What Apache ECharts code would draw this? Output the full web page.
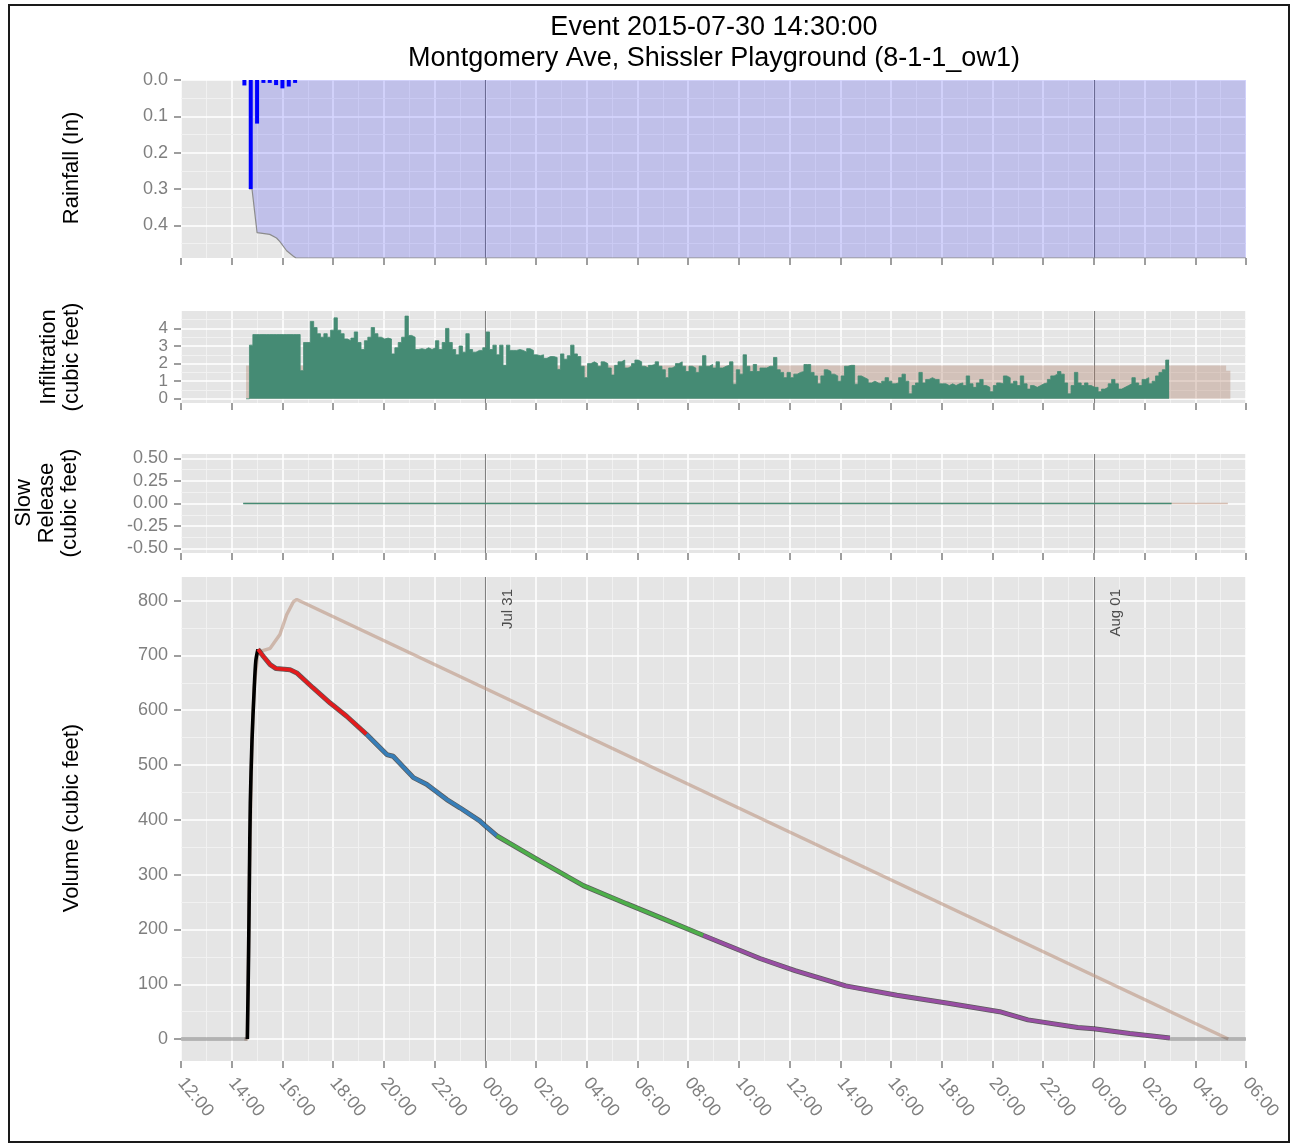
<!DOCTYPE html>
<html><head><meta charset="utf-8">
<script src="https://cdn.jsdelivr.net/npm/echarts@6/dist/echarts.min.js"></script>
<style>
html,body{margin:0;padding:0;background:#fff}
#wrap{position:relative;width:1293px;height:1145px}
#c{width:1293px;height:1145px}
#frame{position:absolute;left:8px;top:4px;width:1278px;height:1135px;border:2px solid #1a1a1a;pointer-events:none}
</style>
</head><body>
<div id="wrap"><div id="c"></div><div id="frame"></div></div>
<script>
// ---------------- DATA ----------------
const titleLines = ['Event 2015-07-30 14:30:00', 'Montgomery Ave, Shissler Playground (8-1-1_ow1)'];
const xStart = '2015-07-30 12:00';
const xEnd = '2015-08-01 06:00';
const xTickHours = 2;
const dayMarks = ['2015-07-31 00:00', '2015-08-01 00:00'];
const dayMarkLabels = ['Jul 31', 'Aug 01'];

// Rainfall panel
const rainTimes = ['2015-07-30 14:30','2015-07-30 14:45','2015-07-30 15:00','2015-07-30 15:15','2015-07-30 15:30','2015-07-30 15:45','2015-07-30 16:00','2015-07-30 16:15','2015-07-30 16:30'];
const rainValues = [0.015, 0.30, 0.12, 0.008, 0.008, 0.014, 0.023, 0.018, 0.008];
const cumRainTimes = ['2015-07-30 14:41','2015-07-30 14:48','2015-07-30 15:00','2015-07-30 15:30','2015-07-30 15:46','2015-07-30 15:54','2015-07-30 16:10','2015-07-30 16:26','2015-07-30 16:32','2015-08-01 06:00'];
const cumRainValues = [0.30, 0.30, 0.42, 0.425, 0.435, 0.445, 0.47, 0.485, 0.49, 0.49];
const rainTicks = [0, 0.1, 0.2, 0.3, 0.4];
const rainMinor = [0.05, 0.15, 0.25, 0.35, 0.45];

// Infiltration panel (observed, 8-minute bins starting at infilStart)
const infilStart = '2015-07-30 14:34';
const infilStepMin = 8;
const infilValues = [
  0, 3.05,
  3.65,3.65,3.65,3.65,3.65,3.65,3.65,3.65,3.65,3.65,3.65,3.65,3.65,3.65,
  1.6, 3.2, 3.2,
  4.4,4.05,3.7,3.5,3.7,3.5,3.9,4.6,3.9,3.7,3.4,3.3,3.45,3.8,3.2,2.8,3.3,3.5,4.05,3.7,
  3.5,3.4,3.45,3.4,2.55,2.9,3.2,3.5,4.7,3.6,3.5,2.8,2.85,2.8,2.9,2.8,2.9,3.3,2.8,3.2,
  4.0,3.2,2.8,2.5,3.0,2.65,3.7,2.8,2.65,2.75,2.75,2.9,3.8,2.8,3.05,2.5,3.05,1.9,3.05,2.75,
  2.75,2.8,2.75,2.65,2.85,2.75,2.5,2.45,2.5,2.3,
  2.4,2.4,2.35,1.67,2.55,2.25,2.45,3.05,2.55,2.4,
  1.85,1.2,2.0,2.1,2.0,1.85,2.1,2.0,1.75,1.35,
  1.9,2.1,2.2,1.75,1.85,2.0,2.2,2.1,1.85,1.75,
  1.9,1.95,2.1,1.85,1.65,1.2,1.75,1.85,2.0,2.1,
  1.85,1.55,1.85,1.75,1.5,1.85,2.45,1.85,1.95,1.75,
  2.1,1.75,1.85,1.9,2.1,0.83,1.65,1.4,2.5,1.85,
  1.55,1.95,1.55,1.75,1.75,1.85,1.85,2.35,1.65,1.5,
  1.2,1.5,1.2,1.4,1.5,1.55,1.95,1.95,1.5,1.3,
  0.85,1.3,1.65,1.55,1.4,1.3,1.0,1.3,1.85,
  1.9,1.9,0.83,1.3,1.2,1.1,0.9,1.0,0.9,0.85,
  1.0,1.2,1.0,0.85,0.9,1.2,1.4,1.0,0.28,0.75,
  0.9,1.5,0.9,1.1,1.2,1.1,1.1,0.85,0.85,0.75,
  0.85,0.75,0.85,0.9,0.75,1.3,0.85,0.65,0.9,1.1,
  0.75,0.65,0.4,0.75,0.9,0.85,1.3,1.2,0.85,1.0,
  0.75,1.3,0.85,0.55,0.75,0.65,0.75,0.85,0.9,1.1,
  1.3,1.4,1.55,1.4,0.9,0.28,0.75,1.5,0.9,0.75,
  0.9,0.75,0.65,0.65,0.4,0.55,0.65,0.85,1.1,0.85,
  0.55,0.65,0.75,0.85,1.2,0.9,0.75,1.1,1.2,0.85,
  1.0,1.3,1.5,1.65,2.2
];
const modelInfilTimes = ['2015-07-30 14:34','2015-08-01 05:13','2015-08-01 05:23'];
const modelInfilValues = [1.89, 1.6, 1.6];
const infilTicks = [0, 1, 2, 3, 4];
const infilMinor = [0.5, 1.5, 2.5, 3.5, 4.5];

// Slow release panel
const slowObsTimes = ['2015-07-30 14:27','2015-08-01 03:04'];
const slowObsValues = [0, 0];
const slowModelTimes = ['2015-07-30 14:30','2015-08-01 05:17'];
const slowModelValues = [0, 0];
const slowTicks = [-0.5, -0.25, 0, 0.25, 0.5];
const slowMinor = [-0.375, -0.125, 0.125, 0.375];

// Volume panel (observed, by segment)
const volGreyStart = [['2015-07-30 12:00',0],['2015-07-30 14:37',0]];
const volBlack = [['2015-07-30 14:37',0],['2015-07-30 14:40',160],['2015-07-30 14:42',305],['2015-07-30 14:44',430],['2015-07-30 14:48',545],['2015-07-30 14:53',635],['2015-07-30 14:57',690],['2015-07-30 15:02',711]];
const volRed = [['2015-07-30 15:02',711],['2015-07-30 15:15',698],['2015-07-30 15:31',683],['2015-07-30 15:45',676],['2015-07-30 16:18',674],['2015-07-30 16:34',668],['2015-07-30 17:12',641],['2015-07-30 17:53',613],['2015-07-30 18:32',589],['2015-07-30 19:19',556]];
const volBlue = [['2015-07-30 19:19',556],['2015-07-30 20:07',519],['2015-07-30 20:22',516],['2015-07-30 21:10',477],['2015-07-30 21:41',465],['2015-07-30 22:29',437],['2015-07-30 23:00',422],['2015-07-30 23:47',398],['2015-07-31 00:00',389],['2015-07-31 00:27',371]];
const volGreen = [['2015-07-31 00:27',371],['2015-07-31 01:18',348],['2015-07-31 02:09',325],['2015-07-31 03:52',280],['2015-07-31 05:34',247],['2015-07-31 06:53',222],['2015-07-31 08:36',189]];
const volPurple = [['2015-07-31 08:36',189],['2015-07-31 10:50',147],['2015-07-31 12:13',125],['2015-07-31 14:13',97],['2015-07-31 16:14',80],['2015-07-31 18:19',65],['2015-07-31 20:17',50],['2015-07-31 21:24',35],['2015-07-31 23:22',21],['2015-08-01 00:00',19],['2015-08-01 01:25',10],['2015-08-01 03:00',2]];
const volGreyEnd = [['2015-08-01 03:00',0],['2015-08-01 06:00',0]];
const volModel = [['2015-07-30 14:30',0],['2015-07-30 14:37',0],['2015-07-30 14:42',300],['2015-07-30 14:48',545],['2015-07-30 14:53',640],['2015-07-30 15:02',706],['2015-07-30 15:31',713],['2015-07-30 15:54',738],['2015-07-30 16:10',774],['2015-07-30 16:26',798],['2015-07-30 16:34',802],['2015-08-01 05:18',0]];
const volTicks = [0,100,200,300,400,500,600,700,800];
const volMinor = [50,150,250,350,450,550,650,750];

// ---------------- HELPERS ----------------
function P(s){ const [d,t]=s.split(' '); const [Y,M,D]=d.split('-').map(Number); const [h,m]=t.split(':').map(Number); return Date.UTC(Y,M-1,D,h,m); }
const HMS = 3600000;
function fmtHM(v){ const d=new Date(v); return String(d.getUTCHours()).padStart(2,'0')+':'+String(d.getUTCMinutes()).padStart(2,'0'); }
const pairs = (ts, vs) => ts.map((t,i)=>[P(t), vs[i]]);
const conv = arr => arr.map(([t,v])=>[P(t), v]);
const FONT = '"Liberation Sans", Arial, Helvetica, sans-serif';
const TICKCOL = '#7f7f7f';

const infilData = infilValues.map((v,i)=>[P(infilStart)+i*infilStepMin*60000, v]);
infilData.push([P(infilStart)+infilValues.length*infilStepMin*60000, infilValues[infilValues.length-1]]);

// ---------------- LAYOUT ----------------
const grids = [
  {top:80, height:178},
  {top:311, height:92},
  {top:454, height:99},
  {top:577, height:484}
];

const xAxes = grids.map((g,i)=>({
  type:'value', gridIndex:i, min:P(xStart), max:P(xEnd), interval:xTickHours*HMS,
  axisLine:{show:false, onZero:false},
  axisTick:{show:true, length:7, lineStyle:{color:TICKCOL, width:1.5}},
  axisLabel: i===3 ? {show:true, rotate:-50, margin:19, fontSize:18, color:TICKCOL, fontFamily:FONT, formatter:fmtHM, showMinLabel:true, showMaxLabel:true, hideOverlap:false} : {show:false},
  splitLine:{show:true, lineStyle:{color:'#ffffff', width:1.5}},
  minorTick:{show:false, splitNumber:2},
  minorSplitLine:{show:true, lineStyle:{color:'#F2F2F2', width:0.9}}
}));

function yAxis(i, min, max, ticks, dec, inverse, fs){
  return {
    type:'value', gridIndex:i, min:min, max:max, inverse:!!inverse,
    axisLine:{show:false, onZero:false},
    axisTick:{show:true, length:7, customValues:ticks, lineStyle:{color:TICKCOL, width:1.5}},
    axisLabel:{show:true, customValues:ticks, margin:13, fontSize:fs, color:TICKCOL, fontFamily:FONT,
      showMinLabel:true, showMaxLabel:true, hideOverlap:false,
      formatter: v => Number(v).toFixed(dec)},
    splitLine:{show:false}
  };
}
const yAxes = [
  yAxis(0, 0, 0.49, rainTicks, 1, true, 18),
  yAxis(1, -0.24, 4.99, infilTicks, 0, false, 17),
  yAxis(2, -0.55, 0.55, slowTicks, 2, false, 18),
  yAxis(3, -40, 843, volTicks, 0, false, 18)
];

function bgSeries(i, major, minor, withLabels){
  const data = [];
  minor.forEach(v=>data.push({yAxis:v, lineStyle:{color:'#F2F2F2', width:0.9, type:'solid'}}));
  major.forEach(v=>data.push({yAxis:v, lineStyle:{color:'#FFFFFF', width:1.5, type:'solid'}}));
  dayMarks.forEach((d,k)=>data.push({xAxis:P(d), lineStyle:{color:'#808080', width:1.1, type:'solid'},
    label: withLabels ? {show:true, formatter:dayMarkLabels[k], position:'insideEndBottom', color:'#4d4d4d', fontSize:15, fontFamily:FONT, distance:[12,15]} : {show:false}}));
  return {type:'line', xAxisIndex:i, yAxisIndex:i, data:[], silent:true, z:1, animation:false,
    markLine:{silent:true, z:1, zlevel:0, symbol:['none','none'], animation:false, label:{show:false}, emphasis:{disabled:true}, data:data}};
}

const series = [
  bgSeries(0, rainTicks, rainMinor, false),
  bgSeries(1, infilTicks, infilMinor, false),
  bgSeries(2, slowTicks, slowMinor, false),
  bgSeries(3, volTicks, volMinor, true),
  // rainfall cumulative area (filled up to 0 at top)
  {type:'line', xAxisIndex:0, yAxisIndex:0, data:pairs(cumRainTimes, cumRainValues), showSymbol:false, z:3,
   lineStyle:{color:'#8c8c8c', width:1.2}, areaStyle:{color:'rgba(0,0,255,0.23)', origin:'start'}},
  // rainfall bars
  {type:'bar', xAxisIndex:0, yAxisIndex:0, data:pairs(rainTimes, rainValues), barWidth:4, z:4,
   itemStyle:{color:'#0000FF'}},
  // modelled infiltration
  {type:'line', xAxisIndex:1, yAxisIndex:1, step:'end', data:pairs(modelInfilTimes, modelInfilValues), showSymbol:false, z:3,
   lineStyle:{width:0}, areaStyle:{color:'rgba(170,118,92,0.45)'}},
  // observed infiltration
  {type:'line', xAxisIndex:1, yAxisIndex:1, step:'end', data:infilData, showSymbol:false, z:4,
   lineStyle:{color:'#458B74', width:0.8}, areaStyle:{color:'#458B74', opacity:1}},
  // slow release
  {type:'line', xAxisIndex:2, yAxisIndex:2, data:pairs(slowModelTimes, slowModelValues), showSymbol:false, z:3,
   lineStyle:{color:'rgba(190,150,130,0.6)', width:1.5}},
  {type:'line', xAxisIndex:2, yAxisIndex:2, data:pairs(slowObsTimes, slowObsValues), showSymbol:false, z:4,
   lineStyle:{color:'#458B74', width:1.5}},
  // volume: model
  {type:'line', xAxisIndex:3, yAxisIndex:3, data:conv(volModel), showSymbol:false, z:3,
   lineStyle:{color:'rgba(188,150,130,0.6)', width:3.4}},
  // volume: grey parts
  {type:'line', xAxisIndex:3, yAxisIndex:3, data:conv(volGreyStart), showSymbol:false, z:4, lineStyle:{color:'rgba(90,90,90,0.45)', width:3.4}},
  {type:'line', xAxisIndex:3, yAxisIndex:3, data:conv(volGreyEnd), showSymbol:false, z:4, lineStyle:{color:'rgba(90,90,90,0.45)', width:3.4}},
  // dark outline under coloured segments
  {type:'line', xAxisIndex:3, yAxisIndex:3, data:conv(volRed).concat(conv(volBlue), conv(volGreen), conv(volPurple)), showSymbol:false, z:4,
   lineStyle:{color:'rgba(0,0,0,0.6)', width:5}},
  {type:'line', xAxisIndex:3, yAxisIndex:3, data:conv(volBlack), showSymbol:false, z:5, smooth:0.3, lineStyle:{color:'#000000', width:3.6}},
  {type:'line', xAxisIndex:3, yAxisIndex:3, data:conv(volRed), showSymbol:false, z:5, lineStyle:{color:'#E41A1C', width:3.5}},
  {type:'line', xAxisIndex:3, yAxisIndex:3, data:conv(volBlue), showSymbol:false, z:5, lineStyle:{color:'#377EB8', width:3.5}},
  {type:'line', xAxisIndex:3, yAxisIndex:3, data:conv(volGreen), showSymbol:false, z:5, lineStyle:{color:'#4DAF4A', width:3.5}},
  {type:'line', xAxisIndex:3, yAxisIndex:3, data:conv(volPurple), showSymbol:false, z:5, lineStyle:{color:'#984EA3', width:3.5}}
];

const axisTitles = [
  {text:'Rainfall (In)', x:72, y:168},
  {text:'Infiltration\n(cubic feet)', x:60, y:357},
  {text:'Slow\nRelease\n(cubic feet)', x:47, y:503},
  {text:'Volume (cubic feet)', x:72, y:818}
];

const graphic = [
  {type:'text', x:714, y:28, style:{text:titleLines[0], align:'center', verticalAlign:'middle', font:'27px '+FONT, fill:'#000'}},
  {type:'text', x:714, y:59, style:{text:titleLines[1], align:'center', verticalAlign:'middle', font:'27px '+FONT, fill:'#000'}}
].concat(axisTitles.map(a=>({type:'text', x:a.x, y:a.y, rotation:Math.PI/2,
  style:{text:a.text, align:'center', verticalAlign:'middle', font:'22px '+FONT, fill:'#000', lineHeight:23}})));

const chart = echarts.init(document.getElementById('c'), null, {renderer:'canvas'});
chart.setOption({
  animation:false,
  backgroundColor:'#ffffff',
  grid: grids.map(g=>({left:181, right:47, top:g.top, height:g.height, show:true, backgroundColor:'#E5E5E5', borderWidth:0, containLabel:false, outerBoundsMode:'none'})),
  xAxis:xAxes,
  yAxis:yAxes,
  series:series,
  graphic:graphic
});
</script>
</body></html>
